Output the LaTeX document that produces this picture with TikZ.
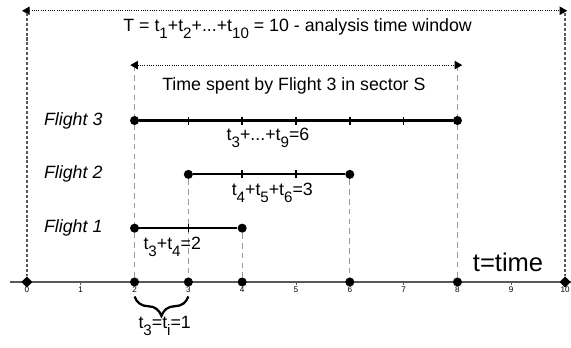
\documentclass[tikz,border=0pt]{standalone}
\usepackage{fontspec}
\setmainfont{Liberation Sans}
\usetikzlibrary{arrows.meta,decorations.pathreplacing,shapes.geometric,positioning,backgrounds}
\newcommand{\tsub}[1]{t\raisebox{-3.6pt}{\fontsize{8}{9}\selectfont #1}}

\begin{document}
\begin{tikzpicture}[
  font=\fontsize{9.4}{11}\selectfont,
  fdot/.style={circle,fill,inner sep=0pt,minimum size=4.8pt},
  fdiam/.style={diamond,fill,inner sep=0pt,minimum size=6pt},
  flight/.style={line width=1.1pt},
  fliptick/.style={line width=0.8pt},
  guide/.style={black!40,line width=0.5pt,dash pattern=on 3pt off 2.2pt},
  border/.style={black!65,line width=1.1pt,dash pattern=on 1.6pt off 1pt},
  span/.style={line width=0.6pt,dash pattern=on 0.5pt off 0.7pt,
    {Triangle[length=4pt,width=4.4pt]}-{Triangle[length=4pt,width=4.4pt]}},
  fname/.style={anchor=east,inner xsep=0pt,font=\fontsize{9.4}{11}\selectfont\itshape},
  tnum/.style={anchor=base,inner sep=0pt,font=\fontsize{4.3}{5}\selectfont}]
  \useasboundingbox (-0.5,-1.21) rectangle (10.11,5.24);
  % time axis
  \coordinate (al) at (-0.32,0);
  \coordinate (ar) at (10.11,0);
  \draw[black!65,line width=0.8pt] (al) -- (ar);
  \foreach \i in {0,...,10} {
    \draw[black!65,line width=0.4pt] (\i,0) -- (\i,-0.06);
    \node[tnum] (n\i) at (\i,-0.2) {\i};
  }
  \foreach \i in {2,3,4,6,8} \node[fdot] (x\i) at (\i,0) {};
  \node[fdiam] (x0) at (0,0) {};
  \node[fdiam] (x10) at (10,0) {};
  \node[font=\fontsize{13.5}{15}\selectfont,anchor=base] (tt) at (8.94,0.19) {t=time};
  % analysis window and sector time
  \coordinate (tl) at (-0.09,5.04);
  \coordinate (tr) at (10.04,5.04);
  \draw[span] (tl) -- (tr);
  \coordinate (bl) at (0,5.0);
  \coordinate (br) at (10,5.0);
  \draw[border] (bl) -- (x0);
  \draw[border] (br) -- (x10);
  \node[anchor=base] (ttot) at (5.03,4.65) {T = \tsub{1}+\tsub{2}+...+\tsub{10} = 10 - analysis time window};
  \coordinate (il) at (1.92,4.03);
  \coordinate (ir) at (8.09,4.03);
  \draw[span] (il) -- (ir);
  \node[anchor=base] (tsec) at (4.96,3.55) {Time spent by Flight 3 in sector S};
  % flights
  \foreach \k/\a/\b in {3/2/8,2/3/6,1/2/4} {
    \node[fdot] (s\k) at (\a,\k) {};
    \node[fdot] (e\k) at (\b,\k) {};
    \draw[flight] (s\k) -- (e\k);
    \node[fname] (l\k) at (1.41,\k) {Flight \k};
  }
  \foreach \k/\i in {3/3,3/4,3/5,3/6,3/7,2/4,2/5,1/3}
    \draw[fliptick] (\i,\k-0.075) -- (\i,\k+0.075);
  \node[anchor=base] (sum3) at (4.48,2.62) {\tsub{3}+...+\tsub{9}=6};
  \node[anchor=base] (sum2) at (4.56,1.6) {\tsub{4}+\tsub{5}+\tsub{6}=3};
  \node[anchor=base] (sum1) at (2.7,0.6) {\tsub{3}+\tsub{4}=2};
  % unit step
  \coordinate (b2) at (2,-0.27);
  \coordinate (b3) at (3,-0.27);
  \draw[line width=1.2pt,decorate,decoration={brace,mirror,amplitude=0.36cm}] (b2) -- (b3);
  \node[anchor=base] (unit) at (2.56,-0.87) {\tsub{3}=\tsub{i}=1};
  % guides
  \coordinate (gl) at (2,4.03);
  \coordinate (gr) at (8,4.03);
  \begin{scope}[on background layer]
    \draw[guide] (gl) -- (x2);
    \draw[guide] (gr) -- (x8);
    \draw[guide] (s2) -- (x3);
    \draw[guide] (e1) -- (x4);
    \draw[guide] (e2) -- (x6);
  \end{scope}
\end{tikzpicture}
\end{document}
